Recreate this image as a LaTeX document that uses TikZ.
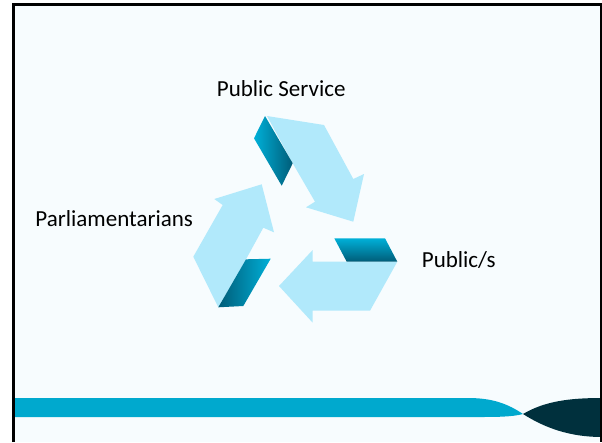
\documentclass[tikz,border=0pt]{standalone}
\usepackage{fontspec}
\setmainfont{Carlito}
\definecolor{slidebg}{HTML}{F7FCFE}
\definecolor{arrowblue}{HTML}{B1E9FB}
\definecolor{foldlight}{HTML}{00B0D8}
\definecolor{folddark}{HTML}{005C78}
\definecolor{bandcyan}{HTML}{00A9CE}
\definecolor{banddark}{HTML}{00303D}
\begin{document}
\begin{tikzpicture}[x=1pt,y=-1pt,
  actor/.style={anchor=base,font=\fontsize{23}{27}\selectfont}]
  \useasboundingbox (0,0) rectangle (602,442);
  \fill[slidebg] (13.5,4) rectangle (601,442);
  % band at the foot
  \fill[bandcyan] (13.5,398) -- (468,398) .. controls (493,398) and (508,404) .. (523,414)
    .. controls (512,417) and (495,417) .. (478,417) -- (13.5,417) -- cycle;
  \fill[banddark] (523,414) .. controls (545,401) and (570,398) .. (602,398) -- (602,437)
    .. controls (570,437) and (545,428) .. (523,414) -- cycle;
  \draw[line width=3pt] (13.5,442) -- (13.5,4) -- (601,4) -- (601,442);
  % top arrow
  \fill[arrowblue] (267,116) -- (324,125) -- (353.3,179) -- (364,174) -- (353.3,221.7)
    -- (306,207.3) -- (315,201.7) -- (292.7,163.3) -- cycle;
  \shade[left color=foldlight,right color=folddark] (265,116) -- (292.7,163.3) -- (281.7,185.7) -- (254,138.3) -- cycle;
  % right arrow
  \fill[arrowblue] (346.7,261.7) -- (397.3,261.7) -- (370,310.7) -- (312.7,310.7) -- (312.7,322.7)
    -- (279,286) -- (312.7,250) -- (312.7,261.7) -- cycle;
  \shade[top color=foldlight,bottom color=folddark] (334.3,238.3) -- (385,238.3) -- (397.3,261.7) -- (346.7,261.7) -- cycle;
  % left arrow
  \fill[arrowblue] (218.3,307.3) -- (193.3,256.7) -- (222.7,205) -- (214.3,199) -- (261.7,184.3)
    -- (274,232.3) -- (263.3,227.7) -- (246,259.3) -- cycle;
  \shade[left color=folddark,right color=foldlight] (246,259.3) -- (270.7,258.7) -- (243.3,306) -- (218.3,307.3) -- cycle;
  % labels
  \node[actor] (service) at (281.2,96.7) {Public Service};
  \node[actor] (parl) at (114.2,226.7) {Parliamentarians};
  \node[actor] (publics) at (458.8,267.3) {Public/s};
\end{tikzpicture}
\end{document}
